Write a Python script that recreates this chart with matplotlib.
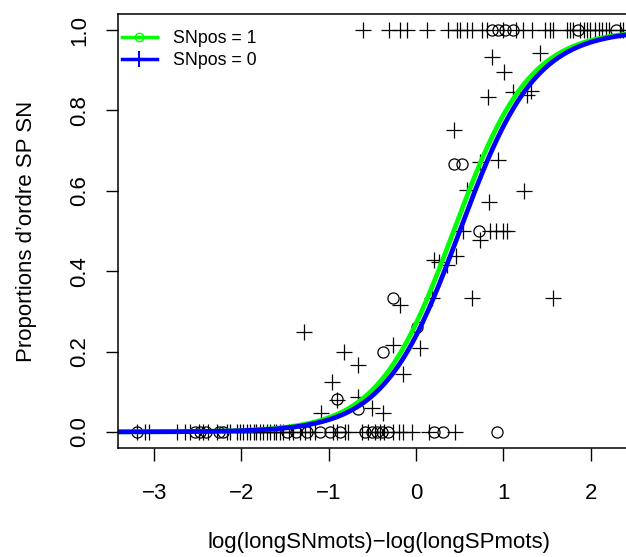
import numpy as np
import matplotlib
matplotlib.use("Agg")
import matplotlib.pyplot as plt

plt.rcParams["font.family"] = ["Liberation Sans", "DejaVu Sans"]

# SNpos = 1 (circles)
sn1_top_x = [0.87, 0.94, 1.02, 1.11, 1.85, 2.29]
sn1_bottom_x = [-3.20, -2.53, -2.47, -2.41, -2.26, -2.21, -1.48, -1.37, -1.25,
                -1.10, -0.99, -0.87, -0.58, -0.51, -0.45, -0.39, -0.32,
                0.20, 0.31, 0.93]
sn1_mid_x = [-0.90, -0.67, -0.38, -0.27, 0.01, 0.43, 0.53, 0.72]
sn1_mid_y = [0.083, 0.057, 0.199, 0.334, 0.262, 0.667, 0.667, 0.500]

# SNpos = 0 (plus signs)
sn0_top_x = [-0.61, -0.31, -0.18, -0.10, 0.13, 0.37, 0.47, 0.50, 0.58, 0.64,
             0.75, 0.81, 1.00, 1.15, 1.23, 1.33, 1.48, 1.53, 1.57, 1.73,
             1.76, 1.80, 1.88, 1.92, 1.96, 1.99, 2.05, 2.09, 2.13, 2.18,
             2.21, 2.34, 2.37]
sn0_bottom_x = [-3.20, -3.10, -3.06, -2.74, -2.65, -2.59, -2.49, -2.44, -2.38,
                -2.28, -2.17, -2.13, -2.05, -2.02, -1.98, -1.94, -1.90, -1.86,
                -1.83, -1.79, -1.75, -1.71, -1.67, -1.63, -1.60, -1.56, -1.52,
                -1.46, -1.41, -1.33, -1.27, -1.21, -1.16, -0.95, -0.91, -0.81,
                -0.78, -0.62, -0.55, -0.47, -0.41, -0.37, -0.26, -0.20, -0.15,
                -0.05, 0.15, 0.45]
sn0_mid_x = [-1.28, -0.82, -0.67, -0.96, -0.90, -0.67, -1.09, -0.50, -0.38,
             -0.26, -0.15, -0.18, 0.04, 0.18, 0.64, 1.57, 0.20, 0.26, 0.35,
             0.46, 0.54, 0.73, 0.92, 1.00, 0.87, 1.42, 1.01, 0.82, 1.11,
             1.27, 1.32, 0.43, 0.73, 0.94, 0.58, 1.24, 0.84, 0.85, 1.04]
sn0_mid_y = [0.249, 0.199, 0.166, 0.125, 0.080, 0.087, 0.047, 0.060, 0.046,
             0.216, 0.144, 0.316, 0.210, 0.334, 0.334, 0.334, 0.427, 0.424, 0.415,
             0.438, 0.500, 0.478, 0.500, 0.500, 0.934, 0.943, 0.895, 0.833, 0.845,
             0.838, 0.848, 0.752, 0.671, 0.677, 0.602, 0.600, 0.572, 0.500, 0.500]

# fitted logistic curves (midpoint, slope)
sn1_fit = (0.43, 2.31)
sn0_fit = (0.50, 2.31)

x_ticks = [-3, -2, -1, 0, 1, 2]
y_ticks = [0.0, 0.2, 0.4, 0.6, 0.8, 1.0]


def logistic(x, fit):
    mid, slope = fit
    return 1.0 / (1.0 + np.exp(-slope * (x - mid)))


fig = plt.figure(figsize=(6.26, 5.57), dpi=100)
ax = fig.add_axes([0.1885, 0.1957, 0.8339, 0.7792])

x1 = sn1_top_x + sn1_bottom_x + sn1_mid_x
y1 = [1.0] * len(sn1_top_x) + [0.0] * len(sn1_bottom_x) + sn1_mid_y
x0 = sn0_top_x + sn0_bottom_x + sn0_mid_x
y0 = [1.0] * len(sn0_top_x) + [0.0] * len(sn0_bottom_x) + sn0_mid_y

ax.plot(x1, y1, linestyle="none", marker="o", markersize=8,
        markerfacecolor="none", markeredgecolor="black", markeredgewidth=0.9)
ax.plot(x0, y0, linestyle="none", marker="+", markersize=11,
        color="black", markeredgewidth=0.9)

xlim = (-3.414, 2.565)
xs = np.linspace(xlim[0], xlim[1], 400)
ax.plot(xs, logistic(xs, sn1_fit), color="#00FF00", linewidth=3.4)
ax.plot(xs, logistic(xs, sn0_fit), color="#0000FF", linewidth=3.4)

ax.set_xlim(xlim)
ax.set_ylim(-0.04, 1.04)

ax.set_xticks(x_ticks)
ax.set_xticklabels([str(t).replace("-", "\u2212") for t in x_ticks])
ax.set_yticks(y_ticks)
ax.set_yticklabels([f"{t:.1f}" for t in y_ticks], rotation=90, va="center")

ax.tick_params(axis="both", direction="out", length=9, width=1,
               labelsize=16, color="black")
ax.tick_params(axis="x", pad=16.5)
ax.tick_params(axis="y", pad=11)

for sp in ax.spines.values():
    sp.set_linewidth(1.1)
    sp.set_color("black")

ax.set_xlabel("log(longSNmots)\u2212log(longSPmots)", fontsize=16, labelpad=20)
ax.set_ylabel("Proportions d\u2019ordre SP SN", fontsize=16, labelpad=23)

h1, = ax.plot([], [], color="#00FF00", linewidth=2.5, marker="o", markersize=6,
              markerfacecolor="none", markeredgewidth=1)
h0, = ax.plot([], [], color="#0000FF", linewidth=2.5, marker="+", markersize=11,
              markeredgewidth=1.5)
ax.legend([h1, h0], ["SNpos = 1", "SNpos = 0"], loc="upper left",
          bbox_to_anchor=(0, 0.972), borderaxespad=0, frameon=False,
          fontsize=12.8, handlelength=1.97, handletextpad=0.9,
          borderpad=0.22, labelspacing=0.27)

fig.savefig("out.png", dpi=100)
